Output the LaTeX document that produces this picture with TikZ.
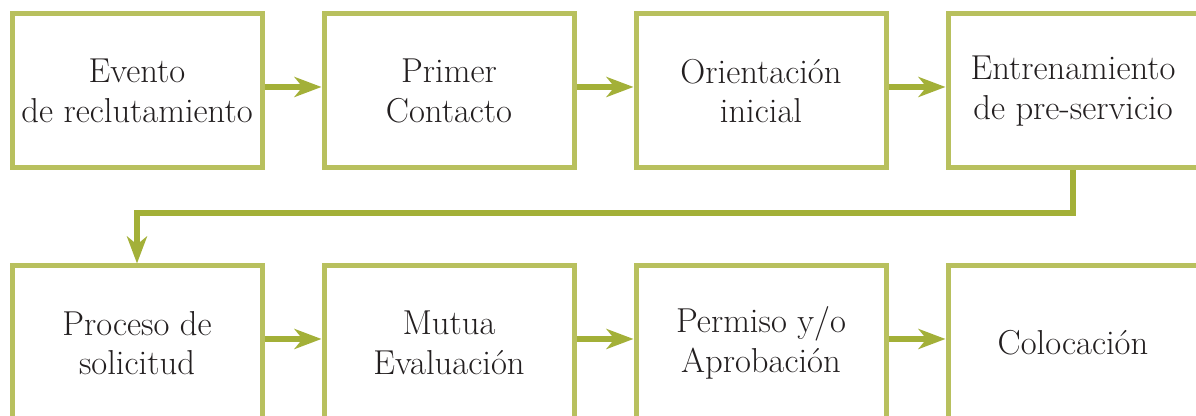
\documentclass[tikz,border=0pt]{standalone}
\usetikzlibrary{arrows.meta}
\definecolor{boxgreen}{RGB}{184,192,94}
\definecolor{arrowgreen}{RGB}{163,176,56}
\definecolor{textgray}{RGB}{35,31,32}
\begin{document}
\begin{tikzpicture}[x=0.5pt,y=0.5pt,
    stagebox/.style={shape=rectangle,draw=boxgreen,line width=2.5pt,
      minimum width=125pt,minimum height=77pt,align=center,
      text=textgray,font=\fontsize{17.3}{19.8}\selectfont},
    flowarrow/.style={draw=arrowgreen,line width=2.7pt,
      -{Stealth[length=13.5pt,width=10pt,inset=4pt]}}]
            \useasboundingbox (0,0) rectangle (1196,416);

            \node[stagebox] (A) at (137,325) {Evento\\de reclutamiento};
            \node[stagebox] (B) at (449,325) {Primer\\Contacto};
            \node[stagebox] (C) at (761,325) {Orientación\\inicial};
            \node[stagebox] (D) at (1073,325) {Entrenamiento\\de pre-servicio};
            \node[stagebox] (E) at (137,73) {Proceso de\\solicitud};
            \node[stagebox] (F) at (449,73) {Mutua\\Evaluación};
            \node[stagebox] (G) at (761,73) {Permiso y/o\\Aprobación};
            \node[stagebox] (H) at (1073,73) {Colocación};
            \coordinate (turn) at (600,203);

            \draw [flowarrow] ([yshift=2pt]A.east) -- ([yshift=2pt]B.west);
            \draw [flowarrow] ([yshift=2pt]B.east) -- ([yshift=2pt]C.west);
            \draw [flowarrow] ([yshift=2pt]C.east) -- ([yshift=2pt]D.west);
            \draw [flowarrow] (D.south) -- (D.south |- turn) -| (E.north);
            \draw [flowarrow] ([yshift=2pt]E.east) -- ([yshift=2pt]F.west);
            \draw [flowarrow] ([yshift=2pt]F.east) -- ([yshift=2pt]G.west);
            \draw [flowarrow] ([yshift=2pt]G.east) -- ([yshift=2pt]H.west);
        \end{tikzpicture}
\end{document}
